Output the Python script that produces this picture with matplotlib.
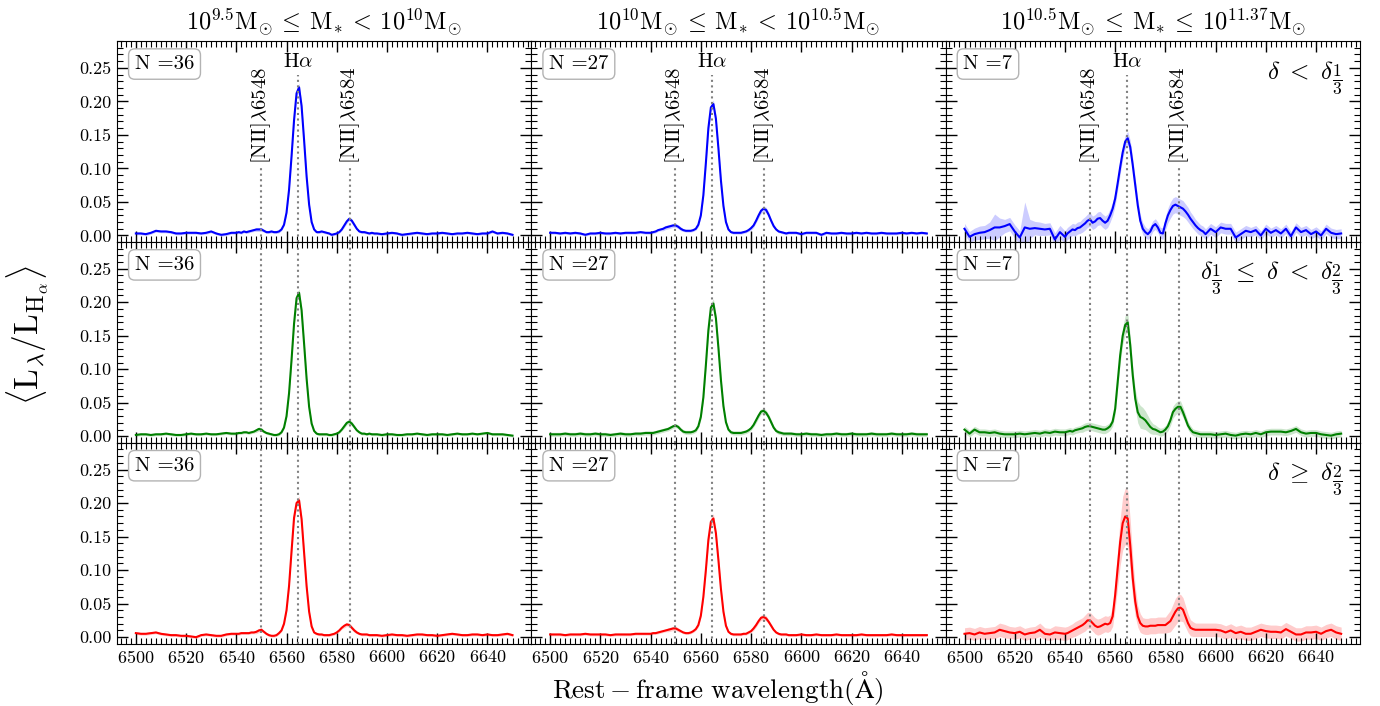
import numpy as np
import matplotlib.pyplot as plt
from matplotlib.ticker import MultipleLocator, FormatStrFormatter

plt.rcParams['font.family'] = 'cmr10'
plt.rcParams['mathtext.fontset'] = 'cm'
plt.rcParams['axes.formatter.use_mathtext'] = True

# wavelength grid: 2 A steps in the continuum, 1 A around the lines
wave = np.concatenate([np.arange(6500, 6540, 2),
                       np.arange(6540, 6596, 1),
                       np.arange(6596, 6651, 2)])

# stacked spectra, in units of 1e-3 L_Halpha
# blue: delta < delta_1/3
flux_b1 = [3, 3, 2, 4, 7, 6, 6, 5, 3, 3, 4, 4, 4, 3, 4, 6, 3, 1, 2, 4,
           4, 5, 4, 6, 5, 6, 7, 8, 9, 9, 9, 7, 5, 5, 6, 5, 5, 6, 9, 16, 34, 68, 118, 172, 212, 221, 193, 142,
           88, 46, 20, 9, 5, 5, 6, 5, 4, 3, 1, 2, 3, 5, 9, 15, 21, 25, 22, 16, 10, 6, 5, 5, 4, 3, 4, 3,
           3, 2, 3, 4, 3, 1, 2, 3, 4, 3, 2, 3, 3, 4, 3, 2, 3, 3, 4, 3, 2, 3, 3, 6, 3, 4, 3, 1]
err_b1 = [2, 2, 2, 2, 2, 2, 2, 2, 2, 2, 2, 2, 2, 2, 2, 2, 2, 2, 2, 2,
          2, 2, 2, 2, 2, 2, 2, 2, 3, 3, 3, 2, 2, 2, 2, 2, 2, 2, 2, 2, 3, 4, 5, 6, 6, 6, 6, 5,
          4, 3, 3, 2, 2, 2, 2, 2, 2, 2, 2, 2, 2, 2, 2, 3, 3, 3, 3, 3, 2, 2, 2, 2, 2, 2, 2, 2,
          2, 2, 2, 2, 2, 2, 2, 2, 2, 2, 2, 2, 2, 2, 2, 2, 2, 2, 2, 2, 2, 2, 2, 2, 2, 2, 2, 2]
flux_b2 = [4, 4, 3, 4, 3, 4, 3, 1, 3, 3, 4, 3, 3, 4, 3, 4, 4, 4, 5, 4,
           4, 5, 6, 8, 9, 10, 12, 13, 14, 15, 15, 13, 10, 8, 7, 7, 7, 8, 10, 16, 30, 60, 108, 160, 191, 196, 174, 130,
           82, 44, 20, 9, 5, 4, 4, 4, 4, 5, 6, 8, 11, 15, 22, 30, 37, 40, 38, 31, 22, 14, 9, 6, 5, 4, 3, 4,
           4, 4, 2, 4, 4, 4, 1, 4, 3, 3, 4, 3, 3, 4, 3, 4, 3, 3, 4, 3, 3, 3, 4, 3, 4, 3, 4, 3]
err_b2 = [2, 2, 2, 2, 2, 2, 2, 2, 2, 2, 2, 2, 2, 2, 2, 2, 2, 2, 2, 2,
          2, 2, 2, 2, 2, 3, 3, 3, 3, 3, 3, 3, 3, 2, 2, 2, 2, 2, 2, 3, 3, 4, 5, 6, 6, 6, 6, 5,
          4, 3, 3, 2, 2, 2, 2, 2, 2, 2, 2, 2, 3, 3, 3, 4, 4, 4, 4, 4, 3, 3, 2, 2, 2, 2, 2, 2,
          2, 2, 2, 2, 2, 2, 2, 2, 2, 2, 2, 2, 2, 2, 2, 2, 2, 2, 2, 2, 2, 2, 2, 2, 2, 2, 2, 2]
flux_b3 = [10, -2, 2, 4, 5, 8, 12, 12, 14, 17, 6, -3, 12, 10, 11, 10, 9, 10, -6, 5,
           -2, 3, 6, 9, 8, 11, 12, 15, 18, 22, 24, 19, 21, 25, 26, 22, 19, 22, 30, 40, 55, 78, 102, 124, 140, 145, 132, 105,
           75, 45, 22, 10, 5, 2, 6, 14, 17, 12, 4, 3, 18, 30, 38, 44, 46, 44, 42, 40, 36, 31, 25, 20, 15, 11, 8, 6,
           2, 10, 5, 12, 10, 10, -3, 2, 7, 5, 8, 0, 10, 4, 8, 3, 10, -1, 12, 5, 8, 2, 6, 0, 10, 4, 2, 3]
err_b3 = [8, 8, 9, 10, 10, 12, 20, 14, 10, 10, 10, 10, 38, 14, 10, 10, 9, 9, 10, 10,
          9, 9, 9, 9, 9, 9, 9, 10, 10, 10, 10, 10, 10, 10, 10, 10, 10, 10, 10, 10, 10, 10, 10, 10, 10, 10, 10, 10,
          10, 10, 9, 9, 8, 8, 8, 8, 8, 8, 8, 9, 10, 11, 12, 12, 12, 12, 12, 12, 11, 11, 10, 10, 9, 9, 8, 8,
          8, 8, 8, 8, 8, 8, 8, 8, 8, 7, 7, 7, 7, 7, 7, 7, 7, 7, 7, 7, 7, 7, 7, 7, 7, 7, 7, 7]

# green: delta_1/3 <= delta < delta_2/3
flux_g1 = [2, 3, 3, 2, 3, 3, 4, 3, 2, 2, 3, 4, 3, 3, 4, 3, 3, 4, 5, 4,
           4, 5, 5, 6, 6, 5, 6, 7, 9, 11, 10, 7, 5, 4, 3, 2, 2, 3, 6, 13, 30, 64, 114, 168, 206, 214, 188, 138,
           86, 44, 19, 8, 4, 3, 3, 3, 3, 2, 2, 3, 4, 6, 10, 15, 20, 22, 19, 14, 9, 6, 4, 4, 3, 4, 3, 3,
           3, 2, 3, 3, 2, 2, 3, 3, 4, 3, 2, 3, 3, 3, 2, 3, 4, 3, 3, 4, 3, 4, 5, 3, 3, 3, 2, 1]
err_g1 = [2, 2, 2, 2, 2, 2, 2, 2, 2, 2, 2, 2, 2, 2, 2, 2, 2, 2, 2, 2,
          2, 2, 2, 2, 2, 2, 2, 2, 3, 3, 3, 2, 2, 2, 2, 2, 2, 2, 2, 2, 3, 4, 5, 6, 6, 6, 6, 5,
          4, 3, 3, 2, 2, 2, 2, 2, 2, 2, 2, 2, 2, 2, 2, 3, 3, 3, 3, 3, 2, 2, 2, 2, 2, 2, 2, 2,
          2, 2, 2, 2, 2, 2, 2, 2, 2, 2, 2, 2, 2, 2, 2, 2, 2, 2, 2, 2, 2, 2, 2, 2, 2, 2, 2, 2]
flux_g2 = [3, 3, 3, 4, 3, 3, 4, 3, 3, 4, 3, 3, 2, 3, 4, 3, 3, 4, 4, 5,
           5, 5, 6, 7, 8, 9, 10, 11, 13, 15, 16, 14, 10, 7, 6, 6, 6, 7, 9, 15, 29, 58, 106, 158, 192, 198, 176, 132,
           84, 45, 21, 10, 6, 5, 5, 5, 5, 6, 7, 9, 12, 17, 24, 31, 37, 38, 35, 29, 21, 13, 8, 6, 5, 4, 4, 4,
           4, 3, 3, 4, 3, 3, 2, 3, 3, 4, 3, 3, 4, 3, 3, 3, 4, 3, 3, 3, 4, 3, 3, 3, 4, 3, 3, 3]
err_g2 = [3, 3, 3, 3, 3, 3, 3, 3, 3, 3, 3, 3, 3, 3, 3, 3, 3, 3, 3, 3,
          3, 3, 3, 3, 3, 3, 3, 3, 3, 3, 3, 3, 3, 3, 3, 3, 3, 3, 3, 3, 4, 5, 6, 7, 7, 7, 7, 6,
          5, 4, 3, 3, 3, 3, 3, 3, 3, 3, 3, 3, 3, 3, 4, 4, 4, 4, 4, 4, 4, 3, 3, 3, 3, 3, 3, 3,
          3, 3, 3, 3, 3, 3, 3, 3, 3, 3, 3, 3, 3, 3, 3, 3, 3, 3, 3, 3, 3, 3, 3, 3, 3, 3, 3, 3]
flux_g3 = [10, 4, 10, 6, 6, 5, 6, 4, 3, 3, 3, 4, 3, 4, 5, 4, 6, 5, 7, 6,
           6, 7, 8, 7, 9, 10, 11, 12, 14, 15, 15, 14, 13, 12, 11, 10, 10, 12, 15, 22, 41, 81, 121, 150, 166, 170, 136, 91,
           56, 36, 29, 27, 24, 19, 14, 11, 10, 8, 6, 7, 10, 15, 24, 36, 41, 44, 44, 36, 26, 16, 10, 6, 5, 4, 3, 3,
           3, 3, 2, 3, 4, 2, 1, 3, 4, 3, 5, 3, 6, 7, 7, 7, 6, 8, 11, 6, 4, 5, 5, 3, 2, 1, 3, 4]
err_g3 = [5, 5, 5, 5, 5, 5, 5, 5, 5, 5, 5, 5, 5, 5, 5, 5, 5, 5, 5, 5,
          5, 5, 5, 5, 5, 5, 5, 6, 6, 6, 6, 6, 6, 6, 6, 6, 6, 6, 6, 7, 8, 10, 12, 13, 14, 14, 13, 12,
          14, 16, 17, 16, 14, 12, 10, 8, 7, 6, 6, 6, 6, 7, 8, 9, 9, 9, 9, 8, 7, 6, 6, 5, 5, 5, 5, 5,
          5, 5, 5, 5, 5, 5, 5, 5, 5, 5, 5, 5, 5, 5, 5, 5, 5, 5, 5, 5, 5, 5, 5, 5, 5, 5, 5, 5]

# red: delta >= delta_2/3
flux_r1 = [6, 5, 5, 6, 7, 5, 4, 3, 3, 2, 2, 1, 0, 3, 4, 3, 2, 2, 4, 5,
           5, 5, 6, 6, 6, 6, 7, 7, 8, 10, 11, 8, 5, 3, 2, 2, 3, 6, 10, 20, 40, 76, 128, 178, 200, 204, 176, 126,
           76, 38, 16, 7, 5, 4, 4, 3, 3, 3, 4, 5, 7, 10, 14, 17, 19, 18, 14, 10, 7, 5, 4, 4, 4, 3, 3, 3,
           3, 2, 3, 4, 3, 3, 2, 3, 4, 4, 3, 3, 2, 3, 4, 5, 4, 3, 3, 4, 4, 3, 4, 3, 3, 4, 5, 3]
err_r1 = [2, 2, 2, 2, 2, 2, 2, 2, 2, 2, 2, 2, 2, 2, 2, 2, 2, 2, 2, 2,
          2, 2, 2, 2, 2, 2, 2, 2, 3, 3, 3, 2, 2, 2, 2, 2, 2, 2, 2, 2, 3, 4, 5, 6, 6, 6, 6, 5,
          4, 3, 3, 2, 2, 2, 2, 2, 2, 2, 2, 2, 2, 2, 2, 3, 3, 3, 3, 3, 2, 2, 2, 2, 2, 2, 2, 2,
          2, 2, 2, 2, 2, 2, 2, 2, 2, 2, 2, 2, 2, 2, 2, 2, 2, 2, 2, 2, 2, 2, 2, 2, 2, 2, 2, 2]
flux_r2 = [4, 4, 4, 3, 4, 4, 4, 5, 4, 4, 4, 4, 3, 4, 4, 4, 4, 5, 5, 5,
           5, 6, 6, 7, 8, 9, 10, 11, 12, 13, 13, 11, 9, 7, 6, 6, 7, 9, 12, 18, 32, 60, 100, 145, 172, 177, 155, 115,
           72, 38, 17, 8, 5, 4, 4, 4, 4, 5, 5, 7, 9, 13, 18, 24, 29, 30, 28, 23, 17, 11, 7, 5, 4, 4, 4, 3,
           3, 3, 4, 3, 3, 4, 3, 3, 3, 4, 3, 3, 3, 3, 4, 3, 3, 3, 3, 3, 4, 3, 3, 3, 3, 3, 3, 3]
err_r2 = [2, 2, 2, 2, 2, 2, 2, 2, 2, 2, 2, 2, 2, 2, 2, 2, 2, 2, 2, 2,
          2, 2, 2, 2, 2, 2, 2, 3, 3, 3, 3, 3, 2, 2, 2, 2, 2, 2, 2, 3, 3, 4, 5, 6, 7, 7, 6, 5,
          4, 3, 3, 2, 2, 2, 2, 2, 2, 2, 2, 2, 2, 3, 3, 3, 4, 4, 4, 3, 3, 2, 2, 2, 2, 2, 2, 2,
          2, 2, 2, 2, 2, 2, 2, 2, 2, 2, 2, 2, 2, 2, 2, 2, 2, 2, 2, 2, 2, 2, 2, 2, 2, 2, 2, 2]
flux_r3 = [5, 6, 4, 7, 5, 6, 7, 11, 9, 7, 6, 8, 4, 6, 7, 11, 5, 4, 7, 6,
           5, 6, 8, 10, 12, 14, 16, 18, 21, 25, 25, 21, 17, 15, 16, 18, 20, 19, 21, 31, 63, 103, 142, 170, 180, 177, 137, 88,
           53, 31, 21, 17, 16, 16, 17, 17, 17, 18, 18, 18, 18, 21, 24, 31, 38, 43, 44, 41, 31, 21, 14, 12, 11, 11, 11, 11,
           11, 11, 11, 10, 7, 10, 6, 8, 5, 5, 8, 11, 9, 8, 8, 7, 12, 8, 4, 4, 7, 7, 8, 5, 9, 11, 7, 5]
err_r3 = [9, 9, 9, 9, 9, 9, 9, 10, 10, 9, 9, 9, 9, 9, 9, 10, 9, 9, 10, 10,
          10, 10, 10, 10, 11, 11, 11, 11, 12, 12, 12, 12, 12, 12, 12, 12, 12, 12, 12, 15, 20, 28, 35, 40, 42, 42, 38, 30,
          22, 16, 14, 12, 12, 12, 12, 12, 12, 12, 12, 12, 12, 14, 16, 18, 20, 20, 20, 18, 16, 14, 12, 11, 10, 10, 10, 10,
          10, 10, 10, 10, 10, 10, 10, 10, 10, 10, 10, 10, 10, 10, 10, 10, 10, 10, 10, 10, 10, 10, 10, 10, 10, 10, 10, 10]

spectra = [[(flux_b1, err_b1), (flux_b2, err_b2), (flux_b3, err_b3)],
           [(flux_g1, err_g1), (flux_g2, err_g2), (flux_g3, err_g3)],
           [(flux_r1, err_r1), (flux_r2, err_r2), (flux_r3, err_r3)]]
colors = ['b', 'g', 'r']
ngal = [36, 27, 7]

titles = [r'$10^{9.5}\mathrm{M}_{\odot}\:\leq\:\mathrm{M}_{*}\:<\:10^{10}\mathrm{M}_{\odot}$',
          r'$10^{10}\mathrm{M}_{\odot}\:\leq\:\mathrm{M}_{*}\:<\:10^{10.5}\mathrm{M}_{\odot}$',
          r'$10^{10.5}\mathrm{M}_{\odot}\:\leq\:\mathrm{M}_{*}\:\leq\:10^{11.37}\mathrm{M}_{\odot}$']
env_labels = [r'$\delta\ <\ \delta_{\dfrac{1}{3}}$',
              r'$\delta_{\dfrac{1}{3}}\ \leq\ \delta\ <\ \delta_{\dfrac{2}{3}}$',
              r'$\delta\ \geq\ \delta_{\dfrac{2}{3}}$']

# line centres (vacuum)
nii_a, halpha, nii_b = 6549.86, 6564.61, 6585.27
ymin, ymax = -0.0095, 0.29

fig, axes = plt.subplots(3, 3, figsize=(13.8, 7.06), dpi=100, sharex=True, sharey=True)
fig.subplots_adjust(left=0.0848, right=0.9855, top=0.9419, bottom=0.0885,
                    wspace=0, hspace=0)

for i in range(3):
    for j in range(3):
        ax = axes[i, j]
        f = np.array(spectra[i][j][0]) * 1e-3
        e = np.array(spectra[i][j][1]) * 1e-3
        ax.fill_between(wave, f - e, f + e, color=colors[i], alpha=0.2, lw=0)
        ax.plot(wave, f, color=colors[i], lw=1.5)

        if i == 0:
            ax.vlines([nii_a, nii_b], ymin, 0.10, colors='gray', linestyles=':', lw=1.5)
            ax.vlines(halpha, ymin, 0.24, colors='gray', linestyles=':', lw=1.5)
            ax.text(nii_a, 0.106, r'$\mathrm{[NII]}\lambda6548$', rotation=90,
                    ha='center', va='bottom', fontsize=15)
            ax.text(nii_b, 0.106, r'$\mathrm{[NII]}\lambda6584$', rotation=90,
                    ha='center', va='bottom', fontsize=15)
            ax.text(halpha, 0.246, r'$\mathrm{H}\alpha$', ha='center', va='bottom', fontsize=15)
            ax.set_title(titles[j], fontsize=17.5, pad=8)
        else:
            for lam in (nii_a, halpha, nii_b):
                ax.axvline(lam, color='gray', ls=':', lw=1.5)

        ax.text(0.043, 0.93, 'N =%d' % ngal[j], transform=ax.transAxes,
                ha='left', va='top', fontsize=15,
                bbox=dict(boxstyle='round,pad=0.3', fc='white', ec='0.7'))
        if j == 2:
            ax.text(0.958, 0.91, env_labels[i], transform=ax.transAxes,
                    ha='right', va='top', fontsize=18)

        ax.set_xlim(6492.5, 6657.5)
        ax.set_ylim(ymin, ymax)
        ax.xaxis.set_major_locator(MultipleLocator(20))
        ax.xaxis.set_minor_locator(MultipleLocator(2))
        ax.yaxis.set_major_locator(MultipleLocator(0.05))
        ax.yaxis.set_minor_locator(MultipleLocator(0.01))
        ax.yaxis.set_major_formatter(FormatStrFormatter('%.2f'))
        ax.tick_params(which='both', direction='in', top=True, right=True,
                       labelsize=13, pad=4)
        ax.tick_params(which='major', length=8, width=1)
        ax.tick_params(which='minor', length=4, width=0.8)

fig.text(0.02, 0.525, r'$\langle \mathrm{L}_{\lambda}/\mathrm{L}_{\mathrm{H}_{\alpha}} \rangle$',
         rotation=90, ha='center', va='center', fontsize=24)
fig.text(0.52, 0.025, r'$\mathrm{Rest - frame\ wavelength(\AA)}$',
         ha='center', va='center', fontsize=19.5)

fig.savefig('out.png', dpi=100)
